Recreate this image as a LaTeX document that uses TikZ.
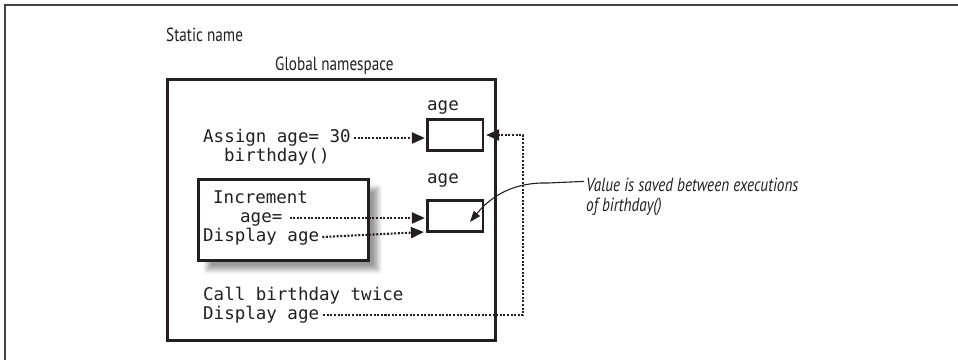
\documentclass[tikz,border=0pt]{standalone}
\usepackage{fontspec}
\setmonofont{DejaVu Sans Mono}
\newfontfamily\lblfont[FakeStretch=0.80]{PT Sans}
\usetikzlibrary{arrows.meta,shadows.blur}
\definecolor{ink}{RGB}{35,31,32}
\begin{document}
\begin{tikzpicture}[x=1pt,y=-1pt,
  mono/.style={font=\ttfamily\fontsize{17.5}{20}\selectfont, inner sep=0pt, anchor=base west, text=ink, text height=12pt, text depth=4pt},
  lbl/.style={font=\lblfont\fontsize{19}{22}\selectfont, inner sep=0pt, anchor=base west, text=ink},
  note/.style={font=\lblfont\itshape\fontsize{19}{22}\selectfont, inner sep=0pt, anchor=base west, text=ink},
  cell/.style={draw=ink, line width=2.6pt, minimum width=55.6pt, minimum height=31.4pt, inner sep=0pt},
  dots/.style={draw=ink, line width=2.1pt, dash pattern=on 2pt off 1.6pt},
  tip/.style={-{Triangle[length=13pt,width=11pt]}}
]
\useasboundingbox (0,0) rectangle (958,360);
\draw[ink!85, line width=1.6pt] (958,5) -- (5,5) -- (5,360);

% boxes
\node[draw=ink, line width=2.6pt, minimum width=328.4pt, minimum height=261.4pt, inner sep=0pt] (global) at (331.5,210) {};
\node[draw=ink, fill=white, line width=2.8pt, minimum width=170.2pt, minimum height=81.2pt, inner sep=0pt,
  blur shadow={shadow xshift=9pt, shadow yshift=-9pt, shadow blur radius=5pt, shadow opacity=40}] (inner) at (283.5,220) {};
\node[cell] (age1) at (455,135) {};
\node[cell] (age2) at (455,216) {};

% labels
\node[lbl] (static) at (166,41) {Static name};
\node[lbl] (gtitle) at (275,70) {Global namespace};
\node[mono] (lab1) at (427,110) {age};
\node[mono] (lab2) at (427,183) {age};
\node[mono] (assign) at (203,142) {Assign age= 30};
\node[mono] (bday) at (224,161) {birthday()};
\node[mono] (incr) at (213,203) {Increment};
\node[mono] (ageq) at (240,222) {age=};
\node[mono] (disp1) at (203,241) {Display age};
\node[mono] (call) at (203,300) {Call birthday twice};
\node[mono] (disp2) at (203,319) {Display age};
\node[note] (note1) at (586,191) {Value is saved between executions};
\node[note] (note2) at (586,211) {of birthday()};

% connectors
\draw[dots,tip] ([xshift=3pt]assign.east) -- ([xshift=-1pt]assign.east -| age1.west);
\draw[dots,tip] ([xshift=7pt]ageq.east) -- ([xshift=-1pt]ageq.east -| age2.west);
\draw[dots,tip] ([xshift=3pt]disp1.east) -- ([xshift=-2pt,yshift=1pt]age2.south west);
\coordinate (rt) at (523,135);
\draw[dots,tip] ([xshift=4pt]disp2.east) -| (rt) -- ([xshift=2pt]age1.east);
\coordinate (ptr) at (470,222);
\draw[ink, line width=1.1pt, -{Triangle[length=11pt,width=8pt]}] ([xshift=-2pt,yshift=3pt]note1.west) -- (548,183) .. controls (515,182) and (492,195) .. (ptr);
\end{tikzpicture}
\end{document}
